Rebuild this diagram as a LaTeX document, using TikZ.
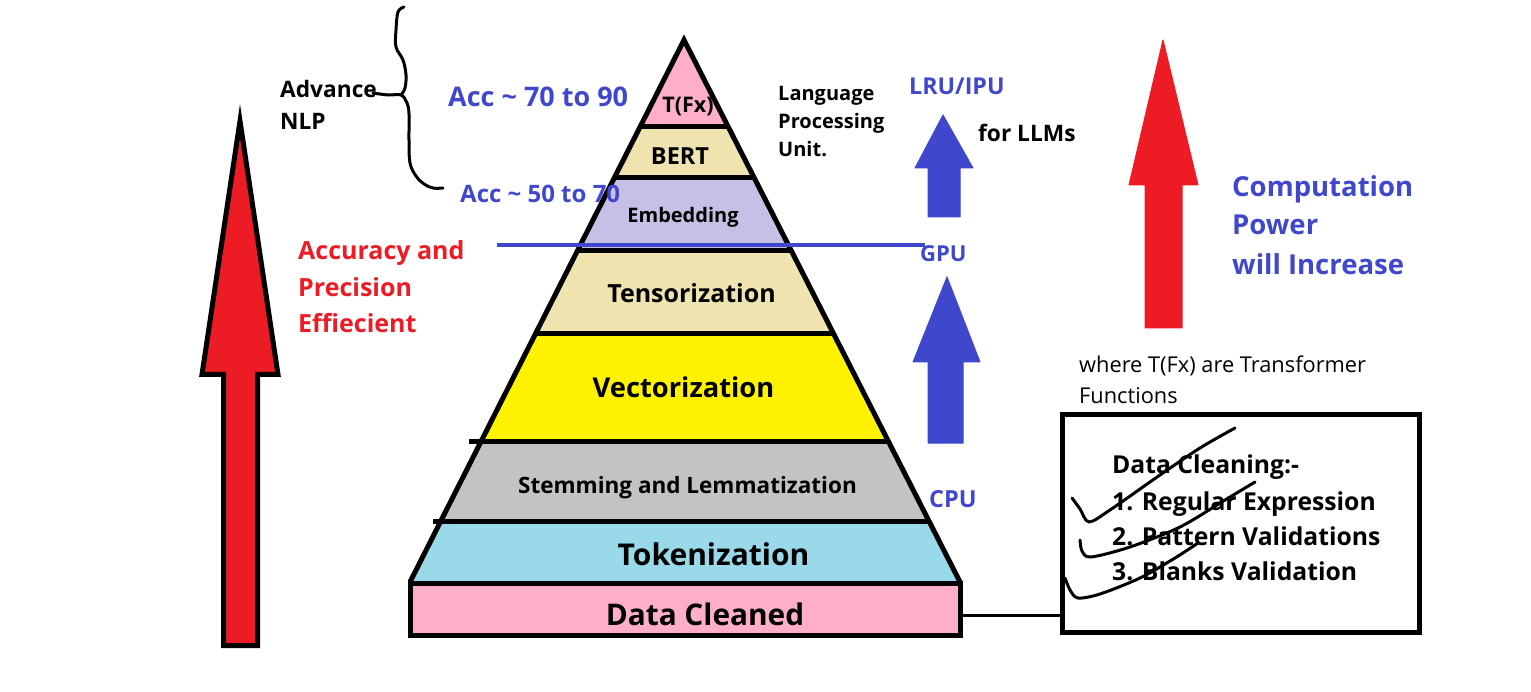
\documentclass[tikz,border=0pt]{standalone}
\usepackage{fontspec}
\setmainfont{Open Sans}
\usetikzlibrary{calc}

\definecolor{pred}{HTML}{ED1C24}
\definecolor{pblue}{HTML}{3F48CC}
\definecolor{lpink}{HTML}{FFAEC9}
\definecolor{ltan}{HTML}{EFE4B0}
\definecolor{llav}{HTML}{C8BFE7}
\definecolor{lyel}{HTML}{FFF200}
\definecolor{lgray}{HTML}{C3C3C3}
\definecolor{lcyan}{HTML}{99D9EA}

\newcommand{\fs}[1]{\fontsize{#1}{#1}\selectfont}

\begin{document}
\begin{tikzpicture}[x=1pt,y=-1pt,
  lbl/.style={inner sep=0pt, anchor=base west, font=\bfseries},
  clbl/.style={inner sep=0pt, anchor=base, font=\bfseries},
  pyr/.style={line width=5pt, black},
  hand/.style={line width=3pt, black, line cap=round, line join=round},
  bluearrow/.style={fill=pblue, draw=pblue, line width=1pt, line join=round},
  redarrow/.style={fill=pred, draw=pred, line width=1pt, line join=round}]
\useasboundingbox (0,0) rectangle (1531,692);

% ---- pyramid ----
\coordinate (A) at (684,40);
\coordinate (L) at (410,582);
\coordinate (R) at (960,582);
\foreach \i/\t in {1/0.1587,2/0.2528,3/0.3875,4/0.5424,5/0.7399,6/0.8875}{
  \coordinate (l\i) at ($(A)!\t!(L)$);
  \coordinate (r\i) at ($(A)!\t!(R)$);
}
\fill[lpink] (A) -- (r1) -- (l1) -- cycle;
\fill[ltan]  (l1) -- (r1) -- (r2) -- (l2) -- cycle;
\fill[llav]  (l2) -- (r2) -- (r3) -- (l3) -- cycle;
\fill[ltan]  (l3) -- (r3) -- (r4) -- (l4) -- cycle;
\fill[lyel]  (l4) -- (r4) -- (r5) -- (l5) -- cycle;
\fill[lgray] (l5) -- (r5) -- (r6) -- (l6) -- cycle;
\fill[lcyan] (l6) -- (r6) -- (R) -- (L) -- cycle;
\draw[pyr] (L) -- (A) -- (R);
\foreach \i in {1,2,3,4}{ \draw[pyr] (l\i) -- (r\i); }
\draw[pyr] ([xshift=-12pt]l5) -- (r5);
\draw[pyr] ([xshift=-8pt]l6) -- (r6);

% base block
\node[draw, line width=5pt, fill=lpink, minimum width=550pt, minimum height=52pt,
      inner sep=0pt] (dc) at (685,609.5) {};

% layer labels
\node[clbl, font=\bfseries\fs{21.5}] (tfx) at (688,113) {T(Fx)};
\node[clbl, font=\bfseries\fs{23.5}] (bert) at (680,165) {BERT};
\node[clbl, font=\bfseries\fs{20}] (emb) at (683,223) {Embedding};
\node[clbl, font=\bfseries\fs{25}] (tens) at (691.5,303) {Tensorization};
\node[clbl, font=\bfseries\fs{27.3}] (vect) at (683.5,398) {Vectorization};
\node[clbl, font=\bfseries\fs{22.5}] (stem) at (687.5,493) {Stemming and Lemmatization};
\node[clbl, font=\bfseries\fs{30}] (tok) at (713.5,565) {Tokenization};
\node[clbl, font=\bfseries\fs{29.8}] (dct) at (705,625) {Data Cleaned};

% accuracy threshold line
\draw[pblue, line width=3.5pt] (497,245) -- (925,245);

% ---- left red arrow ----
\draw[fill=pred, draw=black, line width=5pt, line join=miter]
  (240,121) -- (278,374.5) -- (257.5,374.5) -- (257.5,645.5) -- (223.5,645.5)
  -- (223.5,374.5) -- (202,374.5) -- cycle;

% ---- blue arrows ----
\filldraw[bluearrow] (943,115) -- (973,168) -- (960,168) -- (960,217) -- (928,217)
  -- (928,168) -- (915,168) -- cycle;
\filldraw[bluearrow] (947,277) -- (980,362) -- (963,362) -- (963,443) -- (928,443)
  -- (928,362) -- (913,362) -- cycle;

% ---- right red arrow ----
\filldraw[redarrow] (1163,40) -- (1198,185) -- (1182,185) -- (1182,328) -- (1145,328)
  -- (1145,185) -- (1129,185) -- cycle;

% ---- brace ----
\draw[hand] plot[smooth, tension=0.6] coordinates
  {(404,7) (398,12) (396,30) (396,47) (403,60) (406,75) (405,88) (401,95)};
\draw[hand] plot[smooth, tension=0.6] coordinates
  {(373,93) (388,95) (401,95) (407,103) (409,114) (409,140) (410,163) (416,176)
   (424,184) (433,188) (443,188)};

% ---- labels ----
\node[lbl, font=\bfseries\fs{22.7}] (adv1) at (280,98) {Advance};
\node[lbl, font=\bfseries\fs{22.7}] (adv2) at (280,130) {NLP};
\node[lbl, font=\bfseries\fs{27}, text=pblue] (acc1) at (448,107) {Acc \textasciitilde{} 70 to 90};
\node[lbl, font=\bfseries\fs{24}, text=pblue] (acc2) at (460,203) {Acc \textasciitilde{} 50 to 70};

\node[lbl, font=\bfseries\fs{20}] (lpu1) at (778,101) {Language};
\node[lbl, font=\bfseries\fs{20}] (lpu2) at (778,129) {Processing};
\node[lbl, font=\bfseries\fs{20}] (lpu3) at (778,157) {Unit.};

\node[lbl, font=\bfseries\fs{23.2}, text=pblue] (lru) at (909,95) {LRU/IPU};
\node[lbl, font=\bfseries\fs{22.7}] (llm) at (978,142) {for LLMs};
\node[lbl, font=\bfseries\fs{22}, text=pblue] (gpu) at (920,262) {GPU};
\node[lbl, font=\bfseries\fs{23.5}, text=pblue] (cpu) at (929,507) {CPU};

\node[lbl, font=\bfseries\fs{25}, text=pred] (ap1) at (298,260) {Accuracy and};
\node[lbl, font=\bfseries\fs{25}, text=pred] (ap2) at (298,297) {Precision};
\node[lbl, font=\bfseries\fs{25}, text=pred] (ap3) at (298,333) {Effiecient};

\node[lbl, font=\bfseries\fs{27.5}, text=pblue] (cp1) at (1232,197) {Computation};
\node[lbl, font=\bfseries\fs{27.5}, text=pblue] (cp2) at (1232,235) {Power};
\node[lbl, font=\bfseries\fs{27.5}, text=pblue] (cp3) at (1232,275) {will Increase};

\node[lbl, font=\fs{21.8}] (tf1) at (1079,373) {where T(Fx) are Transformer};
\node[lbl, font=\fs{21.8}] (tf2) at (1079,403) {Functions};

% ---- data cleaning box ----
\node[draw, line width=5pt, minimum width=357pt, minimum height=218pt, inner sep=0pt]
  (box) at (1241,523.5) {};
\node[lbl, font=\bfseries\fs{24.7}] (dcl0) at (1112,473) {Data Cleaning:-};
\node[lbl, font=\bfseries\fs{24.7}] (dcl1) at (1112,510) {1. Regular Expression};
\node[lbl, font=\bfseries\fs{24.7}] (dcl2) at (1112,545) {2. Pattern Validations};
\node[lbl, font=\bfseries\fs{24.7}] (dcl3) at (1112,580) {3. Blanks Validation};

\draw[line width=3.5pt] ([yshift=-6pt]dc.east) -- ([yshift=-6pt]dc.east -| box.west);

% tick marks
\draw[hand] plot[smooth, tension=0.5] coordinates
  {(1072,498) (1080,509) (1089,522) (1110,510) (1160,475) (1200,448) (1235,428)};
\draw[hand] plot[smooth, tension=0.5] coordinates
  {(1080,540) (1082,551) (1091,557) (1130,547) (1180,527) (1225,500) (1255,482)};
\draw[hand] plot[smooth, tension=0.5] coordinates
  {(1065,578) (1070,590) (1078,598) (1100,594) (1140,578) (1175,558) (1198,543)};
\end{tikzpicture}
\end{document}
